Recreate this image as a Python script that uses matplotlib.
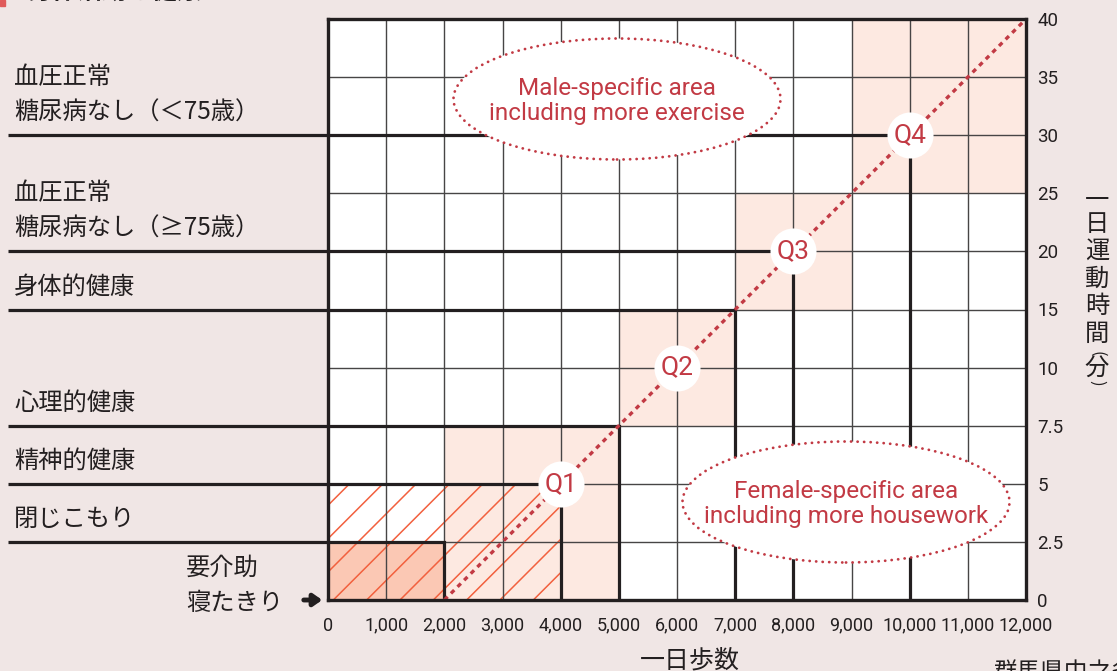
import numpy as np
import matplotlib
matplotlib.use("Agg")
import matplotlib.pyplot as plt
from matplotlib.patches import Ellipse
from matplotlib import font_manager as fm

# ---------------- data ----------------
step_ticks = [0, 1000, 2000, 3000, 4000, 5000, 6000, 7000, 8000, 9000, 10000, 11000, 12000]
step_labels = ["0", "1,000", "2,000", "3,000", "4,000", "5,000", "6,000", "7,000",
               "8,000", "9,000", "10,000", "11,000", "12,000"]
minute_ticks = [0, 2.5, 5, 7.5, 10, 15, 20, 25, 30, 35, 40]
minute_labels = ["0", "2.5", "5", "7.5", "10", "15", "20", "25", "30", "35", "40"]

# category boundaries (steps, minutes)
boundary_steps = [2000, 4000, 5000, 7000, 8000, 10000]
boundary_minutes = [2.5, 5, 7.5, 15, 20, 30]
# labels sitting just above each boundary
boundary_labels = ["閉じこもり", "精神的健康", "心理的健康", "身体的健康",
                   "血圧正常\n糖尿病なし（≥75歳）", "血圧正常\n糖尿病なし（＜75歳）"]
bottom_label = "要介助\n寝たきり"

# quartile blocks
q_names = ["Q1", "Q2", "Q3", "Q4"]
q_x0 = [2000, 5000, 7000, 9000]
q_x1 = [5000, 7000, 9000, 12000]
q_y0 = [0, 7.5, 15, 25]
q_y1 = [7.5, 15, 25, 40]
q_label_steps = [4000, 6000, 8000, 10000]
q_label_minutes = [5, 10, 20, 30]

# bedridden block and housebound (hatched) block
bed_steps = [0, 2000]
bed_minutes = [0, 2.5]
hatch_steps = [0, 4000]
hatch_minutes = [0, 5]

# diagonal reference line
diag_steps = [2000, 12000]
diag_minutes = [0, 40]

male_text = "Male-specific area\nincluding more exercise"
female_text = "Female-specific area\nincluding more housework"
xlabel = "一日歩数"
ylabel_chars = ["一", "日", "運", "動", "時", "間", "(", "分", ")"]
title = "身体活動と健康"
source_text = "群馬県中之条町"

# ---------------- style ----------------
BG = "#f0e6e5"
PINK = "#fde9e1"
SALMON = "#fbc8b4"
HATCH = "#f2603e"
RED = "#c23a44"
DARK = "#231f20"
GRIDC = "#474545"

names = {f.name for f in fm.fontManager.ttflist}
NARROW = "Liberation Sans Narrow" if "Liberation Sans Narrow" in names else "Roboto"
CJK = ["Noto Sans CJK JP", "DejaVu Sans"]

plt.rcParams["hatch.linewidth"] = 1.1

W, H = 1117, 671
fig = plt.figure(figsize=(W / 100, H / 100), dpi=100, facecolor=BG)

L, R, T, B = 328, 1026, 19, 600
ax = fig.add_axes([L / W, 1 - B / H, (R - L) / W, (B - T) / H])
ax.set_facecolor("white")

idx = np.arange(len(minute_ticks), dtype=float)
mt = np.array(minute_ticks, dtype=float)


def fwd(v):
    return np.interp(v, mt, idx)


def inv(v):
    return np.interp(v, idx, mt)


ax.set_yscale("function", functions=(fwd, inv))
ax.set_xlim(step_ticks[0], step_ticks[-1])
ax.set_ylim(minute_ticks[0], minute_ticks[-1])

# quartile pink blocks
for x0, x1, y0, y1 in zip(q_x0, q_x1, q_y0, q_y1):
    ax.bar(x0, y1 - y0, bottom=y0, width=x1 - x0, align="edge",
           color=PINK, linewidth=0, zorder=1)

# bedridden fill
ax.bar(bed_steps[0], bed_minutes[1] - bed_minutes[0], bottom=bed_minutes[0],
       width=bed_steps[1] - bed_steps[0], align="edge", color=SALMON,
       linewidth=0, zorder=1.5)
# hatch
ax.bar(hatch_steps[0], hatch_minutes[1] - hatch_minutes[0], bottom=hatch_minutes[0],
       width=hatch_steps[1] - hatch_steps[0], align="edge", facecolor="none",
       edgecolor=HATCH, hatch="/", linewidth=0, zorder=2)

# grid
for s in step_ticks:
    ax.axvline(s, color=GRIDC, lw=1.0, zorder=3)
for m in minute_ticks:
    ax.axhline(m, color=GRIDC, lw=1.0, zorder=3)

# boundaries
ytr = ax.get_yaxis_transform()
left_ext = (8 - L) / (R - L)
for bs, bm in zip(boundary_steps, boundary_minutes):
    ax.plot([left_ext, 0], [bm, bm], transform=ytr, color=DARK, lw=2.3,
            solid_capstyle="butt", clip_on=False, zorder=4)
    ax.plot([step_ticks[0], bs, bs], [bm, bm, minute_ticks[0]], color=DARK, lw=2.3,
            solid_joinstyle="miter", zorder=4)

# diagonal dotted
ax.plot(diag_steps, diag_minutes, color=RED, lw=2.4, ls=(0, (1.4, 1.4)), zorder=5)

# ellipses
for (cx, cy), txt in [(((617 - L) / (R - L), (B - 99) / (B - T)), male_text),
                      (((846 - L) / (R - L), (B - 502) / (B - T)), female_text)]:
    e = Ellipse((cx, cy), 327 / (R - L), 121 / (B - T), transform=ax.transAxes,
                facecolor="white", edgecolor=RED, lw=2.0,
                linestyle=(0, (0.05, 2.3)), capstyle="round", zorder=6)
    ax.add_patch(e)
    ax.text(cx, cy - 0.003, txt, transform=ax.transAxes, ha="center", va="center",
            color=RED, fontsize=17.5, family=NARROW, linespacing=1.12, zorder=7)

# Q circles
ax.scatter(q_label_steps, q_label_minutes, s=1100, color="white", zorder=8,
           linewidths=0, clip_on=False)
for n, qs, qm in zip(q_names, q_label_steps, q_label_minutes):
    ax.text(qs, qm, n, ha="center", va="center", color=RED, fontsize=19,
            family=NARROW, zorder=9)

# spines & ticks
for sp in ax.spines.values():
    sp.set_color(DARK)
    sp.set_linewidth(2.4)
    sp.set_zorder(10)
ax.set_xticks(step_ticks)
ax.set_xticklabels(step_labels, family=NARROW, fontsize=13, color=DARK)
ax.set_yticks(minute_ticks)
ax.set_yticklabels(minute_labels, family=NARROW, fontsize=13.5, color=DARK)
ax.yaxis.tick_right()
ax.yaxis.set_minor_locator(matplotlib.ticker.NullLocator())
ax.tick_params(axis="x", length=0, pad=12)
ax.tick_params(axis="y", length=0, pad=8)
for lab in ax.get_yticklabels():
    lab.set_horizontalalignment("left")

# left category labels
for lab, bm in zip(boundary_labels, boundary_minutes):
    ax.annotate(lab, xy=(0, bm), xycoords=ytr, xytext=(14 - L, 10),
                textcoords="offset pixels", ha="left", va="bottom",
                fontsize=17.5, family=CJK, color=DARK, linespacing=1.45,
                annotation_clip=False)

fig.text(186 / W, 1 - 585 / H, bottom_label, ha="left", va="center",
         fontsize=17.5, family=CJK, color=DARK, linespacing=1.45)
ax.annotate("", xy=(-3, 0), xycoords=("axes pixels", "data"),
            xytext=(-27, 0), textcoords=("axes pixels", "data"),
            arrowprops=dict(arrowstyle="-|>,head_length=0.5,head_width=0.35",
                            color=DARK, lw=3.5), annotation_clip=False)

# axis titles
fig.text(690 / W, 1 - 660 / H, xlabel, ha="center", va="center",
         fontsize=18, family=CJK, color=DARK)
ypos = [200, 224, 251, 279, 306, 334, 354, 368, 383]
for ch, yp in zip(ylabel_chars, ypos):
    paren = ch in "()"
    fig.text(1097 / W, 1 - yp / H, ch, ha="center", va="center",
             rotation=-90 if paren else 0,
             fontsize=12 if paren else 17.5, family=CJK, color=DARK)

# clipped title & source
fig.patches.append(matplotlib.patches.Rectangle((0, 1 - 6 / H), 5 / W, 6 / H,
                   transform=fig.transFigure, color="#e05a5a", zorder=1))
fig.text(27 / W, 1 + 1 / H, title, ha="left", va="baseline", fontsize=18,
         fontweight="bold", family=CJK, color=DARK)
fig.text(993 / W, 1 - 662 / H, source_text, ha="left", va="top", fontsize=17,
         family=CJK, color=DARK)

fig.savefig("out.png", dpi=100, facecolor=BG)
